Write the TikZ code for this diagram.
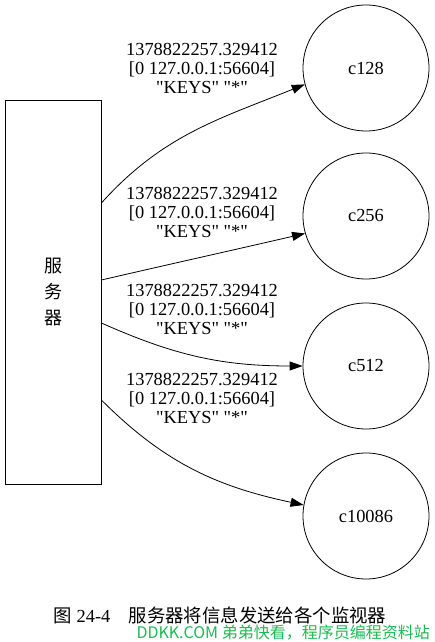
\documentclass[tikz,border=0pt]{standalone}
\usepackage{fontspec}
\setmainfont{Liberation Serif}[Ligatures=TeXOff]
\newfontfamily\cjk{Noto Sans CJK SC}
\usetikzlibrary{arrows.meta}

\definecolor{markgreen}{RGB}{30,185,85}

\tikzset{
  server/.style={draw, line width=0.8pt, minimum width=96pt, minimum height=384pt, align=center, font=\fontsize{18}{26}\selectfont\cjk},
  client/.style={draw, circle, line width=0.8pt, minimum size=126pt, inner sep=0pt},
  msg/.style={align=center, font=\fontsize{18.4}{19}\selectfont},
  send/.style={-{Triangle[length=13pt,width=9pt]}, line width=0.8pt},
}

\begin{document}
\begin{tikzpicture}[x=1pt, y=1pt, font=\fontsize{18.4}{22}\selectfont]
\useasboundingbox (0,0) rectangle (434,642);

% Server
\node[server] (srv) at (53,350) {服\\务\\器};

% Clients
\node[client] (c128) at (366,574) {c128};
\node[client] (c256) at (366,426) {c256};
\node[client] (c512) at (366,276) {c512};
\node[client] (c10086) at (366,126) {c10086};

% Messages sent to every client
\draw[send] ([yshift=89pt]srv.east) to[out=48, in=202] (c128.195);
\draw[send] ([yshift=12pt]srv.east) to[out=13, in=193] (c256.196);
\draw[send] ([yshift=-31pt]srv.east) to[out=-24, in=180] (c512.west);
\draw[send] ([yshift=-108pt]srv.east) to[out=-45, in=168] (c10086.170);

\node[msg] (m128) at (202,574) {1378822257.329412\\{[0 127.0.0.1:56604]}\\"KEYS" "*"};
\node[msg] (m256) at (202,430) {1378822257.329412\\{[0 127.0.0.1:56604]}\\"KEYS" "*"};
\node[msg] (m512) at (202,333) {1378822257.329412\\{[0 127.0.0.1:56604]}\\"KEYS" "*"};
\node[msg] (m10086) at (202,244) {1378822257.329412\\{[0 127.0.0.1:56604]}\\"KEYS" "*"};

% Caption
\node (cap) at (220,27) {{\cjk 图} 24-4\hspace{1em}{\cjk 服务器将信息发送给各个监视器}};
\node[text=markgreen, inner sep=0pt, anchor=east, font=\fontsize{16}{16}\selectfont\cjk] (mark) at (430,9) {DDKK.COM 弟弟快看，程序员编程资料站};

\end{tikzpicture}
\end{document}
